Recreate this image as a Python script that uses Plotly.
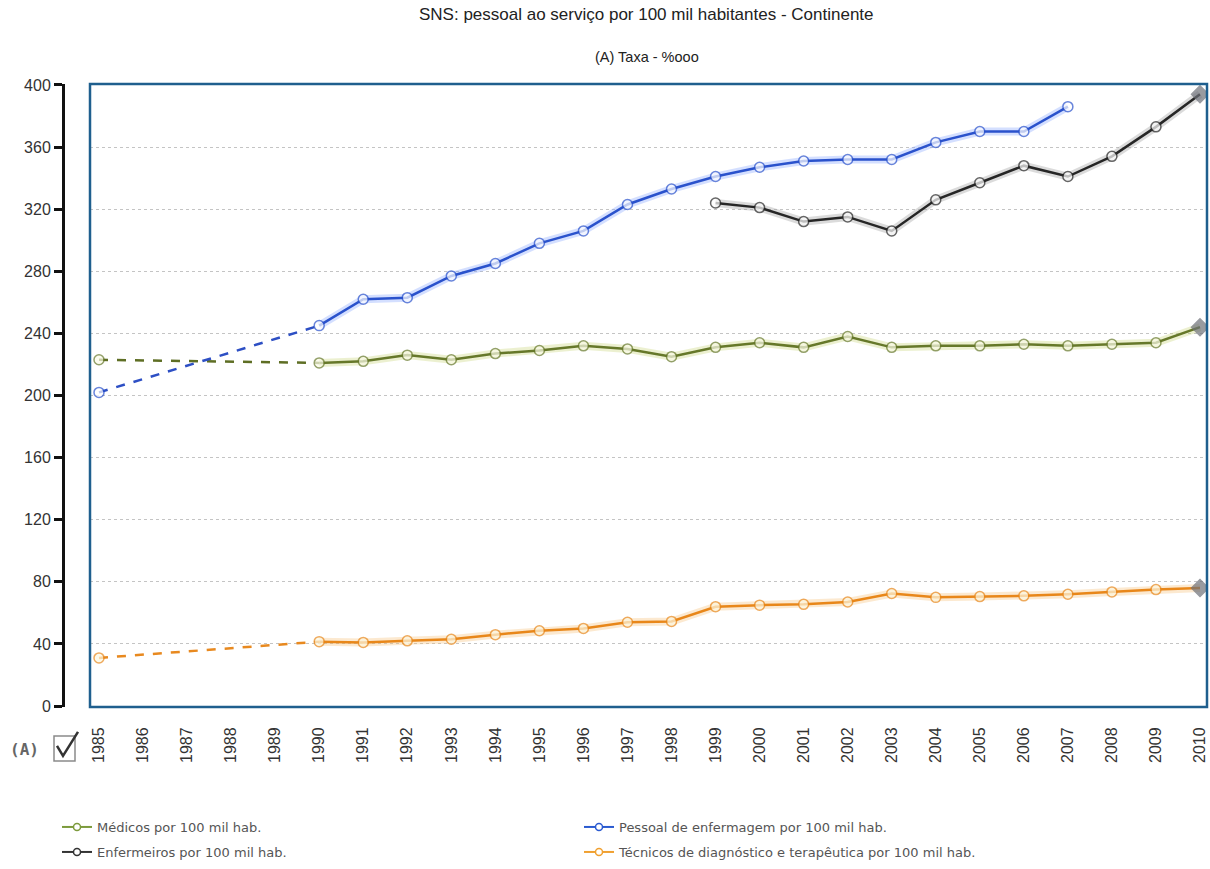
import plotly.graph_objects as go

# ---------------- data ----------------
years = list(range(1985, 2011))
year_labels = [str(y) for y in years]

N = None
medicos = [223, N, N, N, N, 221, 222, 226, 223, 227, 229, 232, 230, 225, 231, 234,
           231, 238, 231, 232, 232, 233, 232, 233, 234, 244]
enfermagem = [202, N, N, N, N, 245, 262, 263, 277, 285, 298, 306, 323, 333, 341, 347,
              351, 352, 352, 363, 370, 370, 386, N, N, N]
enfermeiros = [N, N, N, N, N, N, N, N, N, N, N, N, N, N, 324, 321,
               312, 315, 306, 326, 337, 348, 341, 354, 373, 394]
tecnicos = [31, N, N, N, N, 41.5, 41, 42, 43, 46, 48.5, 50, 54, 54.5, 64, 65,
            65.5, 67, 72.5, 70, 70.5, 71, 72, 73.5, 75, 76]

series_names = ["Médicos por 100 mil hab.",
                "Pessoal de enfermagem por 100 mil hab.",
                "Enfermeiros por 100 mil hab.",
                "Técnicos de diagnóstico e terapêutica por 100 mil hab."]

title_text = "SNS: pessoal ao serviço por 100 mil habitantes - Continente"
subtitle_text = "(A) Taxa - %ooo"

y_ticks = [0, 40, 80, 120, 160, 200, 240, 280, 320, 360, 400]

# ---------------- layout geometry ----------------
W, H = 1210, 869
PL, PR, PT, PB = 63, 1207, 84, 708   # plot area in pixels
BOX_L = 90                            # left edge of the blue frame


def px(x):
    return (x - PL) / (PR - PL)


def py(y):
    return (PB - y) / (PB - PT)


styles = [
    dict(line="#66782a", glow="#c9d77a", dash="#5e6e24", fill="#fbfbe8", leg="#7c9a3c"),
    dict(line="#2a52cc", glow="#86a6ff", dash="#2d4fc4", fill="#ffffff", leg="#2a5ad0"),
    dict(line="#262626", glow="#9a9a9a", dash="#262626", fill="#ffffff", leg="#333333"),
    dict(line="#e8871a", glow="#f7c27a", dash="#e8891f", fill="#fdf8e2", leg="#f0a030"),
]
all_series = [medicos, enfermagem, enfermeiros, tecnicos]
legend_ids = ["legend", "legend", "legend2", "legend2"]

fig = go.Figure()

# glow + dashed gap segments (under the main lines)
for vals, st in zip(all_series, styles):
    fig.add_trace(go.Scatter(x=years, y=vals, mode="lines", connectgaps=False,
                             line=dict(color=st["glow"], width=8), opacity=0.35,
                             hoverinfo="skip", showlegend=False))
    pts = [(x, v) for x, v in zip(years, vals) if v is not None]
    for (x0, v0), (x1, v1) in zip(pts[:-1], pts[1:]):
        if x1 - x0 > 1:
            fig.add_trace(go.Scatter(x=[x0, x1], y=[v0, v1], mode="lines",
                                     line=dict(color=st["dash"], width=2.5, dash="dash"),
                                     hoverinfo="skip", showlegend=False))

# main series
for i, (vals, st, name, lg) in enumerate(zip(all_series, styles, series_names, legend_ids)):
    last = years[-1]
    symbols = ["diamond" if (x == last and v is not None) else "circle" for x, v in zip(years, vals)]
    sizes = [13 if s == "diamond" else 10 for s in symbols]
    fills = ["#6e7179" if s == "diamond" else st["fill"] for s in symbols]
    outl = ["#6e7179" if s == "diamond" else st["line"] for s in symbols]
    fig.add_trace(go.Scatter(x=years, y=vals, mode="lines+markers", name=name,
                             connectgaps=False,
                             line=dict(color=st["line"], width=2.5),
                             marker=dict(symbol=symbols, size=sizes, color=fills,
                                         line=dict(color=outl, width=1.5)),
                             showlegend=False, hoverinfo="x+y"))
    # legend proxy
    fig.add_trace(go.Scatter(x=[None], y=[None], mode="lines+markers", name=name,
                             line=dict(color=st["leg"], width=2),
                             marker=dict(symbol="circle", size=7, color="#ffffff",
                                         line=dict(color=st["leg"], width=1.5)),
                             legend=lg, showlegend=True))

shapes = [
    # blue frame
    dict(type="rect", xref="paper", yref="paper", x0=px(BOX_L), x1=1, y0=0, y1=1,
         line=dict(color="#1f5f8e", width=2.5), layer="above"),
    # checkbox
    dict(type="rect", xref="paper", yref="paper", x0=px(54), x1=px(75), y0=py(762), y1=py(737),
         line=dict(color="#8a8a8a", width=1.5), fillcolor="#ffffff"),
    dict(type="path", xref="paper", yref="paper",
         path=f"M {px(57)} {py(747)} L {px(63)} {py(757)} L {px(78)} {py(733)}",
         line=dict(color="#333333", width=2.5)),
]

annotations = [
    dict(text=title_text, xref="paper", yref="paper", x=px(646), y=py(14),
         showarrow=False, xanchor="center", yanchor="middle",
         font=dict(family="Liberation Sans, Arial", size=17, color="#222222")),
    dict(text=subtitle_text, xref="paper", yref="paper", x=px(647), y=py(57),
         showarrow=False, xanchor="center", yanchor="middle",
         font=dict(family="Liberation Sans, Arial", size=14.5, color="#222222")),
    dict(text="<b>(A)</b>", xref="paper", yref="paper", x=px(24), y=py(751),
         showarrow=False, xanchor="center", yanchor="middle",
         font=dict(family="DejaVu Sans Mono, monospace", size=16, color="#666666")),
]

fig.update_layout(
    width=W, height=H,
    margin=dict(l=PL, r=W - PR, t=PT, b=H - PB, pad=0),
    paper_bgcolor="#ffffff", plot_bgcolor="#ffffff",
    showlegend=True,
    xaxis=dict(domain=[px(BOX_L), 1], range=[1985 - 9 / 44.04, 2010 + 7 / 44.04],
               tickmode="array", tickvals=years, ticktext=year_labels,
               tickangle=-90, ticks="outside", ticklen=13, tickcolor="rgba(0,0,0,0)",
               showgrid=False, zeroline=False, showline=False,
               tickfont=dict(family="Liberation Sans, Arial", size=16, color="#333333")),
    yaxis=dict(anchor="free", position=0, range=[-0.6, 400.6],
               tickmode="array", tickvals=y_ticks,
               ticks="outside", ticklen=8, tickwidth=2.5, tickcolor="#111111",
               showline=True, linecolor="#111111", linewidth=3,
               showgrid=True, gridcolor="#c4c4c4", griddash="dot", gridwidth=1,
               zeroline=False,
               tickfont=dict(family="Liberation Sans, Arial", size=16, color="#333333")),
    legend=dict(orientation="h", x=px(57), y=py(827), xanchor="left", yanchor="middle",
                entrywidth=477, entrywidthmode="pixels", bgcolor="rgba(0,0,0,0)",
                font=dict(family="DejaVu Sans, Verdana", size=13, color="#555555")),
    legend2=dict(orientation="h", x=px(57), y=py(852), xanchor="left", yanchor="middle",
                 entrywidth=477, entrywidthmode="pixels", bgcolor="rgba(0,0,0,0)",
                 font=dict(family="DejaVu Sans, Verdana", size=13, color="#555555")),
    shapes=shapes,
    annotations=annotations,
)

fig.write_html("out.html")
